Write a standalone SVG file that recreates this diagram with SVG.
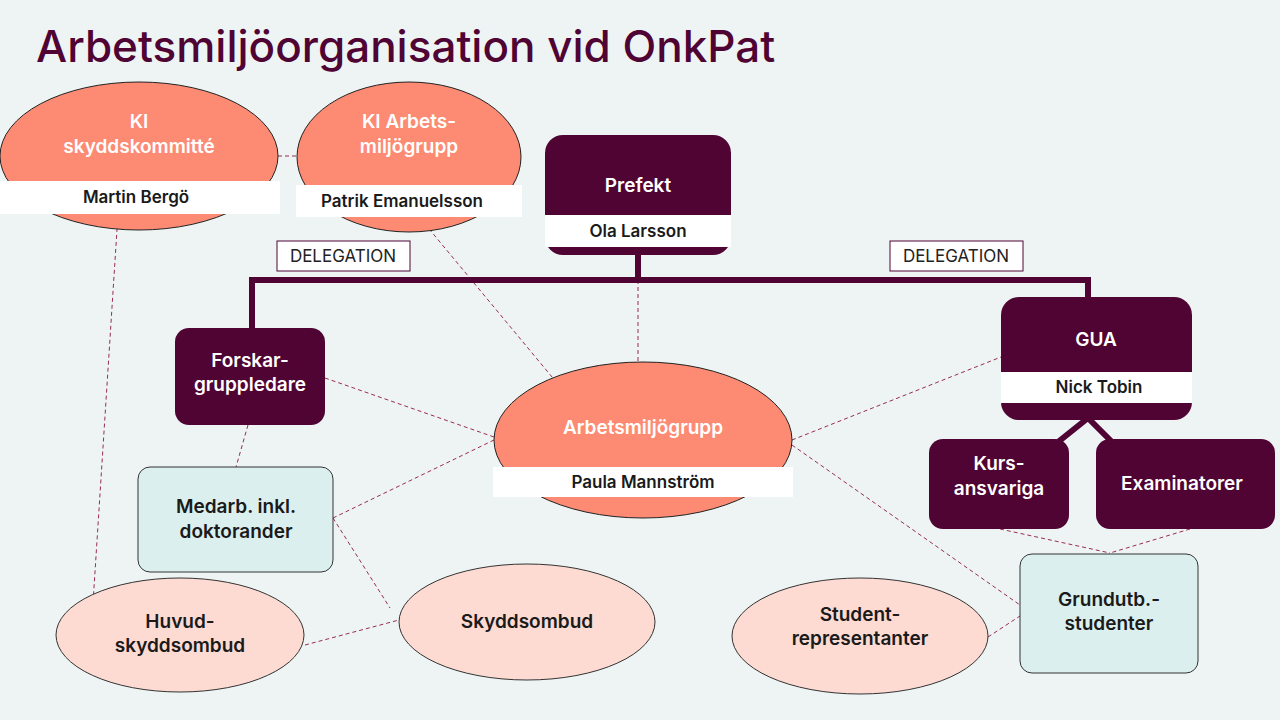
<svg xmlns="http://www.w3.org/2000/svg" width="1280" height="720" viewBox="0 0 1280 720">
<style>
text{font-family:Inter,"Noto Sans",sans-serif;text-anchor:middle}
.dk{fill:#500434}
.sal{fill:#fd8a72;stroke:#222;stroke-width:1}
.pk{fill:#fddbd3;stroke:#333;stroke-width:1}
.lb{fill:#dcefef;stroke:#333;stroke-width:1}
.band{fill:#ffffff}
.wt{fill:#fff;font-size:19px;font-weight:600}
.bt{fill:#1a1a1a;font-size:17px;font-weight:600}
.nt{fill:#1a1a1a;font-size:19px;font-weight:600}
.dash{stroke:#9a2c55;stroke-width:1;stroke-dasharray:4 3;fill:none}
.thick{stroke:#500434;stroke-width:6;fill:none}
.del{fill:#fff;stroke:#500434;stroke-width:1}
.dt{fill:#222;font-size:17px}
</style>
<rect width="1280" height="720" fill="#edf4f3"/>
<text x="36" y="62" style="text-anchor:start;font-size:44px;font-weight:500;fill:#500434">Arbetsmiljöorganisation vid OnkPat</text>
<g id="connectors">
<line class="dash" x1="278" y1="156" x2="297" y2="156"/>
<line class="dash" x1="118" y1="214" x2="93" y2="603"/>
<line class="dash" x1="420" y1="218" x2="557" y2="383"/>
<line class="dash" x1="638" y1="280" x2="638" y2="362"/>
<line class="dash" x1="325" y1="378" x2="494" y2="437"/>
<line class="dash" x1="248" y1="425" x2="236" y2="467"/>
<line class="dash" x1="333" y1="518" x2="494" y2="440"/>
<line class="dash" x1="333" y1="518" x2="390" y2="608"/>
<line class="dash" x1="305" y1="645" x2="399" y2="620"/>
<line class="dash" x1="792" y1="440" x2="1001" y2="357"/>
<line class="dash" x1="792" y1="445" x2="1020" y2="605"/>
<line class="dash" x1="988" y1="637" x2="1020" y2="616"/>
<line class="dash" x1="1000" y1="529" x2="1110" y2="553"/>
<line class="dash" x1="1190" y1="529" x2="1110" y2="553"/>
<path class="thick" d="M638 255V280M252 328V280H1088V297"/>
<path class="thick" d="M1088 418L1058 442M1088 418L1112 442"/>
</g>
<g id="ki-skyddskommitte">
<ellipse class="sal" cx="139" cy="156" rx="139" ry="74"/>
<rect class="band" x="0" y="181" width="280" height="33"/>
<text class="wt" x="139" y="128">KI</text>
<text class="wt" x="139" y="153">skyddskommitté</text>
<text class="bt" x="136" y="203">Martin Bergö</text>
</g>
<g id="ki-amg">
<ellipse class="sal" cx="409" cy="157" rx="112" ry="75"/>
<rect class="band" x="296" y="185" width="226" height="32"/>
<text class="wt" x="409" y="128">KI Arbets-</text>
<text class="wt" x="409" y="153">miljögrupp</text>
<text class="bt" x="402" y="207">Patrik Emanuelsson</text>
</g>
<g id="prefekt">
<rect class="dk" x="545" y="135" width="186" height="120" rx="18"/>
<rect class="band" x="545" y="215" width="186" height="32"/>
<text class="wt" x="638" y="192">Prefekt</text>
<text class="bt" x="638" y="237">Ola Larsson</text>
</g>
<g id="delegation-left"><rect class="del" x="277" y="241" width="133" height="30"/><text class="dt" x="343" y="262">DELEGATION</text></g>
<g id="delegation-right"><rect class="del" x="890" y="241" width="133" height="30"/><text class="dt" x="956" y="262">DELEGATION</text></g>
<g id="forskar">
<rect class="dk" x="175" y="328" width="150" height="97" rx="14"/>
<text class="wt" x="250" y="367">Forskar-</text>
<text class="wt" x="250" y="391">gruppledare</text>
</g>
<g id="gua">
<rect class="dk" x="1001" y="297" width="191" height="123" rx="18"/>
<rect class="band" x="1001" y="372" width="191" height="31"/>
<text class="wt" x="1096" y="346">GUA</text>
<text class="bt" x="1099" y="393">Nick Tobin</text>
</g>
<g id="kurs">
<rect class="dk" x="929" y="439" width="140" height="90" rx="14"/>
<text class="wt" x="999" y="470">Kurs-</text>
<text class="wt" x="999" y="495">ansvariga</text>
</g>
<g id="exam">
<rect class="dk" x="1096" y="439" width="179" height="90" rx="14"/>
<text class="wt" x="1182" y="490">Examinatorer</text>
</g>
<g id="amg">
<ellipse class="sal" cx="643" cy="440" rx="149" ry="78"/>
<rect class="band" x="493" y="467" width="300" height="30"/>
<text class="wt" x="643" y="434">Arbetsmiljögrupp</text>
<text class="bt" x="643" y="488">Paula Mannström</text>
</g>
<g id="medarb">
<rect class="lb" x="138" y="467" width="195" height="105" rx="12"/>
<text class="nt" x="236" y="513">Medarb. inkl.</text>
<text class="nt" x="236" y="538">doktorander</text>
</g>
<g id="grundutb">
<rect class="lb" x="1020" y="554" width="178" height="119" rx="12"/>
<text class="nt" x="1109" y="606">Grundutb.-</text>
<text class="nt" x="1109" y="630">studenter</text>
</g>
<g id="huvud">
<ellipse class="pk" cx="180" cy="635" rx="124" ry="57"/>
<text class="nt" x="180" y="628">Huvud-</text>
<text class="nt" x="180" y="652">skyddsombud</text>
</g>
<g id="skydd">
<ellipse class="pk" cx="527" cy="622" rx="128" ry="58"/>
<text class="nt" x="527" y="628">Skyddsombud</text>
</g>
<g id="student">
<ellipse class="pk" cx="860" cy="636" rx="128" ry="58"/>
<text class="nt" x="860" y="621">Student-</text>
<text class="nt" x="860" y="645">representanter</text>
</g>
</svg>
